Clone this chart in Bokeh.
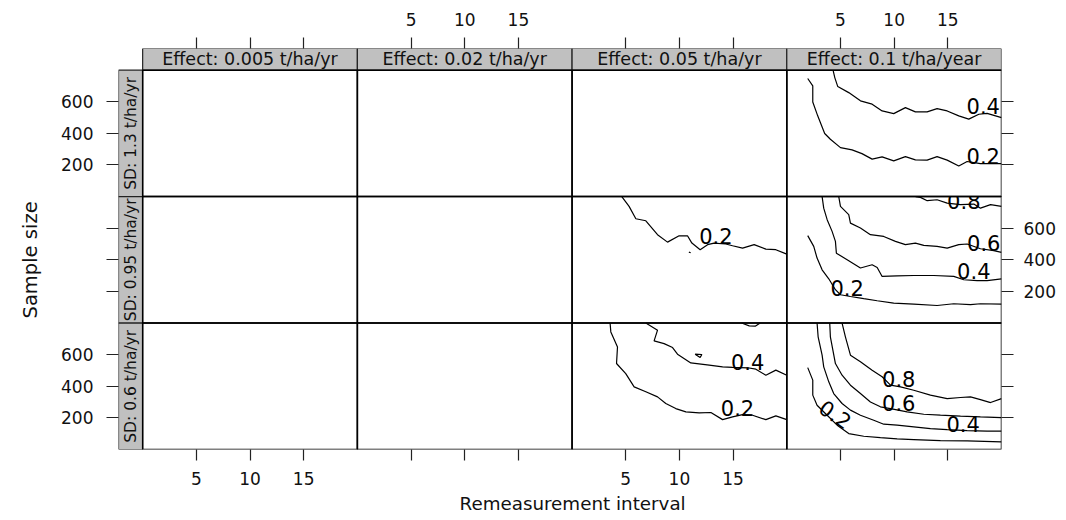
import math
from bokeh.plotting import figure
from bokeh.models import Range1d, LinearAxis, FixedTicker, CustomJSTickFormatter, Title
from bokeh.embed import file_html
from bokeh.resources import INLINE
from bokeh.core.properties import value

FONT = "DejaVu Sans"

# ---------------- data ----------------
effects = ["Effect: 0.005 t/ha/yr", "Effect: 0.02 t/ha/yr", "Effect: 0.05 t/ha/yr", "Effect: 0.1 t/ha/year"]
sds = ["SD: 1.3 t/ha/yr", "SD: 0.95 t/ha/yr", "SD: 0.6 t/ha/yr"]   # rows, top to bottom
x_ticks = [5, 10, 15]
y_ticks = [200, 400, 600]
x_lim = [0, 20]
y_lim = [0, 800]

# contour lines (x = remeasurement interval, y = sample size)
r1c4_02_x = [1.95, 2.42, 2.42, 2.88, 3.53, 4.06, 5.0, 6.08, 7.0, 7.95, 8.88, 9.96, 11.05, 11.98, 13.07, 14.0, 14.94, 16.02, 16.8, 18.04, 20]
r1c4_02_y = [747, 701, 599, 511, 399, 363, 310, 296, 272, 237, 251, 226, 253, 232, 231, 253, 231, 194, 222, 209, 209]
r1c4_04_x = [4.31, 4.47, 4.75, 5.77, 6.86, 7.95, 8.88, 9.96, 11.05, 11.98, 13.07, 14.0, 14.94, 16.02, 16.95, 17.89, 18.66, 20]
r1c4_04_y = [800, 753, 696, 658, 606, 585, 542, 525, 563, 536, 536, 557, 542, 511, 490, 521, 527, 500]

r2c3_02_x = [4.63, 5.31, 5.94, 6.87, 7.96, 8.89, 9.97, 10.75, 11.16, 11.93, 12.62, 13.23, 14.32, 14.95, 15.88, 16.96, 18.05, 18.98, 20]
r2c3_02_y = [800, 738, 660, 647, 559, 512, 552, 552, 506, 464, 496, 506, 500, 489, 474, 496, 468, 464, 436]
r2c3_02b_x = [10.88, 11.05]
r2c3_02b_y = [449, 445]

r2c4_02_x = [1.95, 2.51, 2.82, 3.29, 3.91, 4.53, 5.0, 5.93, 7.17, 8.42, 9.96, 11.83, 14.0, 15.55, 17.11, 18.04, 20]
r2c4_02_y = [553, 485, 411, 337, 280, 211, 179, 168, 154, 141, 126, 120, 111, 122, 116, 122, 120]
r2c4_04_x = [3.29, 3.44, 3.76, 4.22, 4.53, 4.62, 5.62, 6.86, 7.95, 8.42, 8.88, 10.28, 11.83, 13.69, 15.55, 16.49, 17.73, 18.66, 20]
r2c4_04_y = [800, 727, 654, 580, 517, 442, 401, 348, 369, 352, 295, 299, 301, 301, 295, 274, 268, 268, 280]
r2c4_06_x = [4.84, 5.0, 5.77, 5.93, 6.86, 7.79, 9.03, 10.12, 11.05, 11.98, 12.76, 14.0, 14.94, 16.02, 16.8, 18.04, 19.28, 20]
r2c4_06_y = [800, 738, 686, 632, 601, 559, 548, 517, 496, 506, 491, 485, 474, 496, 500, 470, 458, 447]
r2c4_08_x = [12.0, 12.45, 13.08, 14.0, 14.94, 16.18, 17.42, 18.04, 18.98, 20]
r2c4_08_y = [800, 795, 774, 780, 759, 749, 753, 727, 749, 738]

r3c3_02_x = [3.54, 3.61, 4.23, 4.14, 5.0, 5.78, 6.87, 7.96, 8.73, 9.66, 10.6, 11.84, 12.93, 14.02, 14.95, 15.88, 16.81, 18.05, 18.98, 20]
r3c3_02_y = [800, 744, 649, 544, 480, 396, 365, 333, 291, 259, 238, 232, 234, 189, 206, 221, 217, 189, 213, 189]
r3c3_04_x = [6.87, 7.96, 7.64, 8.57, 9.36, 9.82, 11.06, 12.77, 14.02, 14.95, 16.35, 17.12, 18.05, 18.98, 20]
r3c3_04_y = [800, 755, 687, 670, 645, 603, 548, 534, 523, 519, 517, 508, 470, 502, 470]
r3c3_04b_x = [11.46, 12.09, 11.93, 11.46]
r3c3_04b_y = [603, 601, 582, 603]
r3c3_06_x = [15.79, 16.5, 17.06, 17.52]
r3c3_06_y = [800, 782, 780, 800]

r3c4_02_x = [1.95, 2.42, 2.42, 2.82, 3.76, 4.69, 5.77, 7.17, 8.72, 10.28, 11.83, 14.31, 16.8, 20]
r3c4_02_y = [518, 439, 344, 280, 217, 154, 101, 84, 75, 67, 63, 56, 54, 48]
r3c4_04_x = [2.82, 2.92, 3.29, 3.44, 3.91, 4.37, 5.15, 5.93, 6.86, 8.1, 9.03, 10.28, 11.83, 13.38, 14.94, 16.8, 18.66, 20]
r3c4_04_y = [800, 713, 597, 523, 428, 354, 291, 249, 217, 185, 160, 154, 143, 132, 126, 120, 116, 116]
r3c4_06_x = [4.0, 4.06, 4.53, 5.15, 5.93, 6.86, 7.79, 8.72, 9.66, 11.21, 12.76, 14.31, 16.18, 18.04, 20]
r3c4_06_y = [800, 713, 544, 470, 407, 354, 301, 270, 259, 238, 223, 217, 211, 206, 202]
r3c4_08_x = [5.15, 5.46, 5.93, 6.86, 7.95, 8.88, 9.66, 10.59, 11.83, 13.38, 14.94, 16.18, 17.11, 18.04, 18.98, 20]
r3c4_08_y = [800, 713, 597, 555, 502, 460, 407, 396, 375, 344, 322, 329, 333, 316, 297, 322]

# (row, col, x list, y list)
contours = [
    (0, 3, r1c4_02_x, r1c4_02_y), (0, 3, r1c4_04_x, r1c4_04_y),
    (1, 2, r2c3_02_x, r2c3_02_y), (1, 2, r2c3_02b_x, r2c3_02b_y),
    (1, 3, r2c4_02_x, r2c4_02_y), (1, 3, r2c4_04_x, r2c4_04_y),
    (1, 3, r2c4_06_x, r2c4_06_y), (1, 3, r2c4_08_x, r2c4_08_y),
    (2, 2, r3c3_02_x, r3c3_02_y), (2, 2, r3c3_04_x, r3c3_04_y),
    (2, 2, r3c3_04b_x, r3c3_04b_y), (2, 2, r3c3_06_x, r3c3_06_y),
    (2, 3, r3c4_02_x, r3c4_02_y), (2, 3, r3c4_04_x, r3c4_04_y),
    (2, 3, r3c4_06_x, r3c4_06_y), (2, 3, r3c4_08_x, r3c4_08_y),
]

# contour level labels
lab_row = [0, 0, 1, 1, 1, 1, 1, 2, 2, 2, 2, 2, 2]
lab_col = [3, 3, 2, 3, 3, 3, 3, 2, 2, 3, 3, 3, 3]
lab_text = ["0.4", "0.2", "0.2", "0.2", "0.4", "0.6", "0.8", "0.4", "0.2", "0.2", "0.4", "0.6", "0.8"]
lab_x = [18.3, 18.3, 13.39, 5.62, 17.42, 18.35, 16.49, 16.35, 15.41, 4.53, 16.43, 10.43, 10.43]
lab_y = [574, 258, 548, 221, 327, 506, 770, 555, 265, 223, 164, 295, 443]
lab_angle = [0, 0, 0, 0, 0, 0, 0, 0, 0, -0.6, 0, 0, 0]

# ---------------- layout helpers ----------------
NR, NC = len(sds), len(effects)
PW = x_lim[1] - x_lim[0]
PH = y_lim[1] - y_lim[0]
SW = 2.25     # left strip width (x units)
SH = 137.0    # top strip height (y units)


def xo(c):
    return c * PW - x_lim[0]


def yo(r):
    return (NR - 1 - r) * PH - y_lim[0]


p = figure(frame_width=883, frame_height=401,
           x_range=Range1d(-SW, NC * PW), y_range=Range1d(0, NR * PH + SH),
           x_axis_location=None, y_axis_location=None,
           output_backend="svg", toolbar_location=None,
           min_border_left=118, min_border_right=60, min_border_top=48, min_border_bottom=70)
p.grid.grid_line_color = None
p.outline_line_color = None
p.background_fill_color = "white"
p.border_fill_color = "white"

# strips
p.quad(left=[xo(c) + x_lim[0] for c in range(NC)], right=[xo(c) + x_lim[1] for c in range(NC)],
       bottom=[NR * PH] * NC, top=[NR * PH + SH] * NC,
       fill_color="#c0c0c0", line_color="#222222", line_width=1.2)
p.quad(left=[-SW] * NR, right=[0] * NR,
       bottom=[yo(r) + y_lim[0] for r in range(NR)], top=[yo(r) + y_lim[1] for r in range(NR)],
       fill_color="#c0c0c0", line_color="#222222", line_width=1.2)
p.text(x=[xo(c) + (x_lim[0] + x_lim[1]) / 2 for c in range(NC)], y=[NR * PH + SH / 2] * NC, text=effects,
       text_font=value(FONT), text_font_size="17.5px", text_align="center", text_baseline="middle",
       text_color="#111111")
p.text(x=[-SW / 2] * NR, y=[yo(r) + (y_lim[0] + y_lim[1]) / 2 for r in range(NR)], text=sds,
       angle=math.pi / 2, text_font=value(FONT), text_font_size="15.5px", text_align="center",
       text_baseline="middle", text_color="#111111")

# contours
p.multi_line(xs=[[xo(c) + v for v in xs] for (r, c, xs, ys) in contours],
             ys=[[yo(r) + v for v in ys] for (r, c, xs, ys) in contours],
             line_color="black", line_width=1.2)
p.text(x=[xo(c) + v for c, v in zip(lab_col, lab_x)], y=[yo(r) + v for r, v in zip(lab_row, lab_y)],
       text=lab_text, angle=lab_angle, text_font=value(FONT), text_font_size="21px",
       text_align="center", text_baseline="middle", text_color="black")

# clip label overflowing into the panel above (row 2, col 4 -> row 1, col 4)
p.quad(left=[xo(3) + 13.5], right=[xo(3) + 19.8], bottom=[yo(0) + y_lim[0] + 1], top=[yo(0) + 70],
       fill_color="white", line_color=None)

# panel borders
p.quad(left=[xo(c) + x_lim[0] for r in range(NR) for c in range(NC)],
       right=[xo(c) + x_lim[1] for r in range(NR) for c in range(NC)],
       bottom=[yo(r) + y_lim[0] for r in range(NR) for c in range(NC)],
       top=[yo(r) + y_lim[1] for r in range(NR) for c in range(NC)],
       fill_alpha=0, line_color="black", line_width=1.5)

# axes
xt = [xo(c) + t for c in range(NC) for t in x_ticks]
yt = [yo(r) + t for r in range(NR) for t in y_ticks]

xcode = "const c = Math.floor(tick / %g); return cols.includes(c) ? String(Math.round(tick - %g * c + %g)) : '';" % (PW, PW, x_lim[0])
ycode = "const b = Math.floor(tick / %g); return rows.includes(b) ? String(Math.round(tick - %g * b + %g)) : '';" % (PH, PH, y_lim[0])


def style(ax, standoff, tick):
    ax.axis_line_color = None
    ax.major_tick_in = 0
    ax.major_tick_out = tick
    ax.major_tick_line_color = "#222222"
    ax.major_tick_line_width = 1.2
    ax.minor_tick_line_color = None
    ax.major_label_text_font = FONT
    ax.major_label_text_font_size = "17px"
    ax.major_label_text_color = "#111111"
    ax.major_label_standoff = standoff


xb = LinearAxis(ticker=FixedTicker(ticks=xt), formatter=CustomJSTickFormatter(args=dict(cols=[0, 2]), code=xcode))
xa = LinearAxis(ticker=FixedTicker(ticks=xt), formatter=CustomJSTickFormatter(args=dict(cols=[1, 3]), code=xcode))
yl = LinearAxis(ticker=FixedTicker(ticks=yt), formatter=CustomJSTickFormatter(args=dict(rows=[2, 0]), code=ycode))
yr = LinearAxis(ticker=FixedTicker(ticks=yt), formatter=CustomJSTickFormatter(args=dict(rows=[1]), code=ycode))
style(xb, 11, 11)
style(xa, 12, 11)
style(yl, 13, 12)
style(yr, 10, 12)
p.add_layout(xb, "below")
p.add_layout(xa, "above")
p.add_layout(yl, "left")
p.add_layout(yr, "right")

# axis titles, centred on the panels rather than on the frame (which includes the strips)
p.add_layout(Title(text="Remeasurement interval", align="left", offset=341, standoff=6,
                   text_font=FONT, text_font_size="18.3px", text_font_style="normal",
                   text_color="#111111"), "below")
p.add_layout(Title(text="Sample size", align="left", offset=131, standoff=30, vertical_align="top",
                   text_font=FONT, text_font_size="19.5px", text_font_style="normal",
                   text_color="#111111"), "left")

open("out.html", "w").write(file_html(p, INLINE))
